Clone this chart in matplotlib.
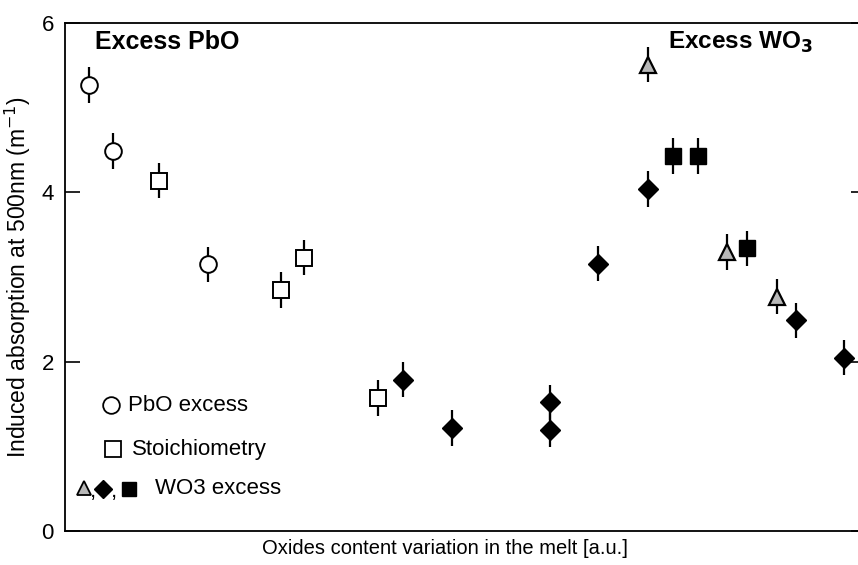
import matplotlib.pyplot as plt

plt.rcParams['font.family'] = ['Liberation Sans', 'DejaVu Sans']

# Data (x in arbitrary units, y = induced absorption at 500nm, m^-1)
pbo_x = [1.0, 1.95, 5.85]
pbo_y = [5.27, 4.49, 3.15]
pbo_err = [0.21, 0.21, 0.21]

stoich_x = [3.85, 8.85, 9.8, 12.8]
stoich_y = [4.14, 2.85, 3.23, 1.57]
stoich_err = [0.21, 0.21, 0.21, 0.21]

tri_x = [23.85, 27.1, 29.15]
tri_y = [5.51, 3.30, 2.77]
tri_err = [0.21, 0.21, 0.21]

dia_x = [13.85, 15.85, 19.85, 19.85, 21.8, 23.85, 29.9, 31.9]
dia_y = [1.79, 1.22, 1.52, 1.20, 3.16, 4.04, 2.49, 2.05]
dia_err = [0.21, 0.21, 0.21, 0.21, 0.21, 0.21, 0.21, 0.21]

sq_x = [24.9, 25.9, 27.9]
sq_y = [4.43, 4.43, 3.34]
sq_err = [0.21, 0.21, 0.21]

y_ticks = [0, 2, 4, 6]

fig = plt.figure(figsize=(8.58, 5.65), dpi=100)
ax = fig.add_axes([0.0758, 0.060, 0.934, 0.899])

eb = dict(fmt='none', ecolor='black', elinewidth=1.6, capsize=0, zorder=2)
ax.errorbar(pbo_x, pbo_y, yerr=pbo_err, **eb)
ax.errorbar(stoich_x, stoich_y, yerr=stoich_err, **eb)
ax.errorbar(tri_x, tri_y, yerr=tri_err, **eb)
ax.errorbar(dia_x, dia_y, yerr=dia_err, **eb)
ax.errorbar(sq_x, sq_y, yerr=sq_err, **eb)

ax.plot(pbo_x, pbo_y, 'o', ms=12, mfc='white', mec='black', mew=1.4, zorder=3)
ax.plot(stoich_x, stoich_y, 's', ms=11, mfc='white', mec='black', mew=1.4, zorder=3)
ax.plot(tri_x, tri_y, '^', ms=11, mfc='#b8b8b8', mec='black', mew=1.6, zorder=3)
ax.plot(dia_x, dia_y, 'D', ms=10, mfc='black', mec='black', zorder=3)
ax.plot(sq_x, sq_y, 's', ms=11, mfc='black', mec='black', zorder=3)

ax.set_xlim(0, 32.8)
ax.set_ylim(0, 6)
ax.set_xticks([])
ax.set_yticks(y_ticks)
ax.tick_params(axis='y', direction='in', length=11, width=1.2, labelsize=16,
               right=True, pad=8)
for s in ax.spines.values():
    s.set_linewidth(1.3)

ax.set_ylabel('Induced absorption at 500nm (m$^{-1}$)', fontsize=16.5, labelpad=6)
ax.set_xlabel('Oxides content variation in the melt [a.u.]', fontsize=14.5)
ax.xaxis.set_label_coords(0.474, -0.016)

ax.text(0.037, 0.963, 'Excess PbO', transform=ax.transAxes, fontsize=18,
        fontweight='bold', va='center')
ax.text(0.752, 0.963, 'Excess WO$_\\mathbf{3}$', transform=ax.transAxes, fontsize=17.5,
        fontweight='bold', va='center')

# hand-drawn legend
tr = ax.transAxes
ax.plot([0.0574], [0.248], 'o', ms=12, mfc='white', mec='black', mew=1.3, transform=tr)
ax.text(0.079, 0.248, 'PbO excess', transform=tr, fontsize=16, va='center')
ax.plot([0.060], [0.161], 's', ms=11, mfc='white', mec='black', mew=1.3, transform=tr)
ax.text(0.0836, 0.161, 'Stoichiometry', transform=tr, fontsize=16, va='center')
ax.plot([0.0237], [0.085], '^', ms=10, mfc='#b8b8b8', mec='black', mew=1.3, transform=tr)
ax.text(0.0315, 0.078, ',', transform=tr, fontsize=16, va='center')
ax.plot([0.0474], [0.083], 'D', ms=9, mfc='black', mec='black', transform=tr)
ax.text(0.0575, 0.078, ',', transform=tr, fontsize=16, va='center')
ax.plot([0.0799], [0.083], 's', ms=10, mfc='black', mec='black', transform=tr)
ax.text(0.1124, 0.083, 'WO3 excess', transform=tr, fontsize=16, va='center')

fig.savefig('out.png', dpi=100)
